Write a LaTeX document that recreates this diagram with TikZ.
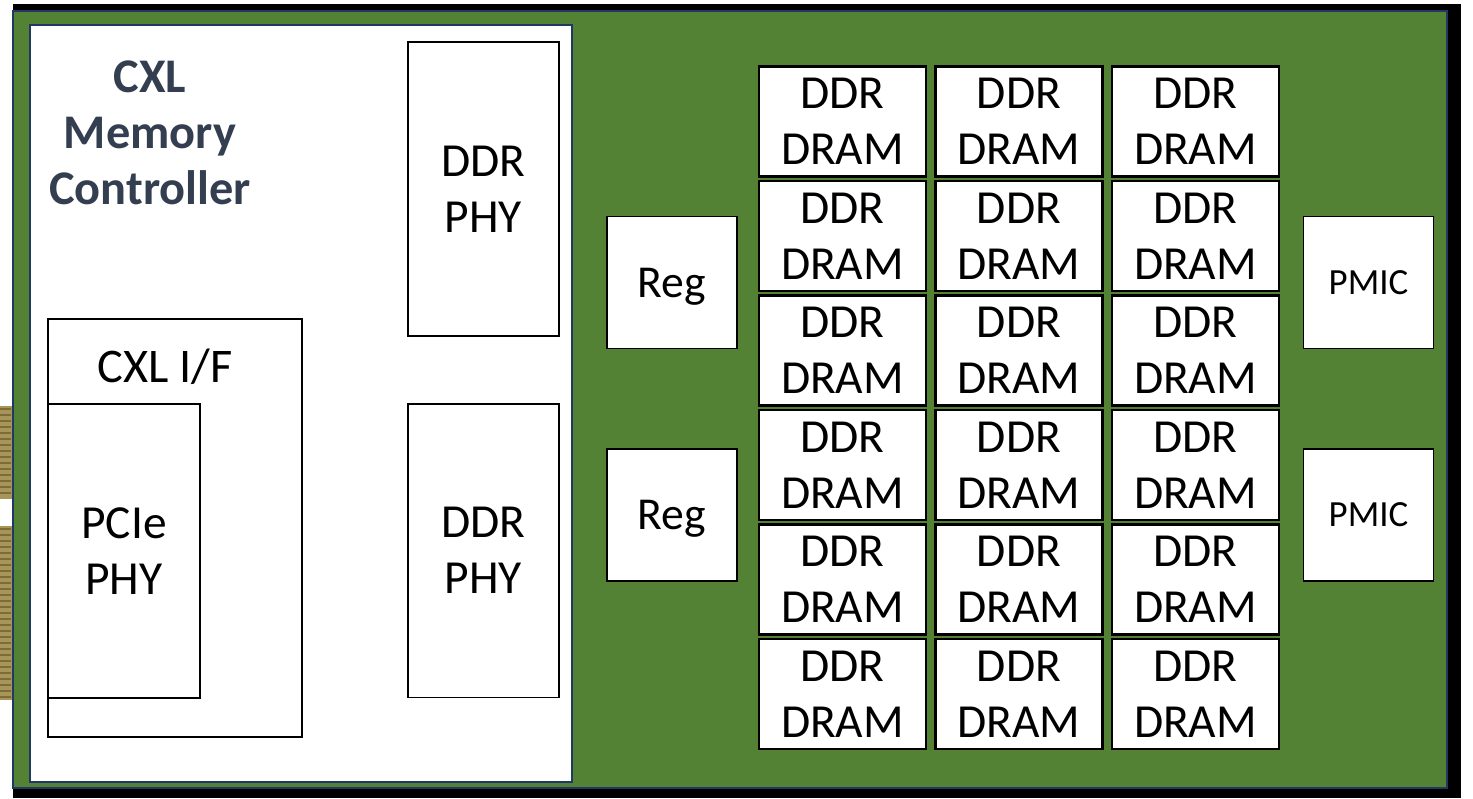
\documentclass[tikz,border=0pt]{standalone}
\usepackage{fontspec}
\setmainfont{Carlito}
\usetikzlibrary{positioning}
\definecolor{boardgreen}{HTML}{548235}
\definecolor{navy}{HTML}{1F3864}
\definecolor{slate}{HTML}{333F50}
\definecolor{gold}{HTML}{A8955A}
\definecolor{golddark}{HTML}{7D6C38}

\begin{document}
\begin{tikzpicture}[x=0.02cm,y=-0.02cm,
    blk/.style={draw=black,fill=white,line width=1.1pt,inner sep=0pt,align=center},
    dram/.style={blk,line width=1.3pt,minimum width=3.34cm,minimum height=2.2cm,font=\fontsize{27}{32}\selectfont},
    chip/.style={blk,minimum width=2.6cm,minimum height=2.64cm,text depth=0pt},
    phy/.style={blk,minimum width=3.02cm,minimum height=5.88cm,font=\fontsize{27}{32}\selectfont}]
  \useasboundingbox (0,0) rectangle (1473,798);

  % edge connector pins
  \fill[gold] (0,406) rectangle (12,499);
  \fill[gold] (0,526) rectangle (12,700);
  \foreach \yy in {409,415,...,497} \draw[golddark,line width=0.7pt] (0,\yy) -- (11,\yy);
  \foreach \yy in {529,535,...,698} \draw[golddark,line width=0.7pt] (0,\yy) -- (11,\yy);

  % board with shadow
  \fill[black] (13,4) rectangle (1461,798);
  \draw[navy,fill=boardgreen,line width=1.1pt] (13,11) rectangle (1447,788);

  % controller
  \node[draw=navy,fill=white,line width=1.1pt,minimum width=10.84cm,minimum height=15.14cm,inner sep=0pt] (ctrl) at (301,403.5) {};
  \node[align=center,text=slate,font=\fontsize{27.5}{32}\bfseries\selectfont] (title) at (150,133) {CXL\\Memory\\Controller};

  \node[phy] (phy1) at (483.5,189) {DDR\\PHY};
  \node[phy] (phy2) at (483.5,550.5) {DDR\\PHY};

  \node[blk,minimum width=5.08cm,minimum height=8.36cm] (cxlif) at (175,528) {};
  \node[font=\fontsize{27.5}{32}\selectfont] (cxliftext) at (165,367) {CXL I/F};
  \node[phy,minimum width=3.04cm] (pcie) at (124,551) {PCIe\\PHY};

  % registers and PMICs
  \node[chip,font=\fontsize{26}{32}\selectfont] (reg1) at (672,282.5) {Reg};
  \node[chip,font=\fontsize{26}{32}\selectfont] (reg2) at (672,515) {Reg};
  \node[chip,font=\fontsize{21}{24}\selectfont] (pmic1) at (1368.5,282.5) {PMIC};
  \node[chip,font=\fontsize{21}{24}\selectfont] (pmic2) at (1368.5,515) {PMIC};

  % DRAM array
  \foreach \r in {1,...,6}
    \foreach \c/\xx in {1/842.5,2/1019,3/1195.5}
      \node[dram] (dram-\r-\c) at (\xx,{121.5+114.5*(\r-1)}) {DDR\\DRAM};
\end{tikzpicture}
\end{document}
